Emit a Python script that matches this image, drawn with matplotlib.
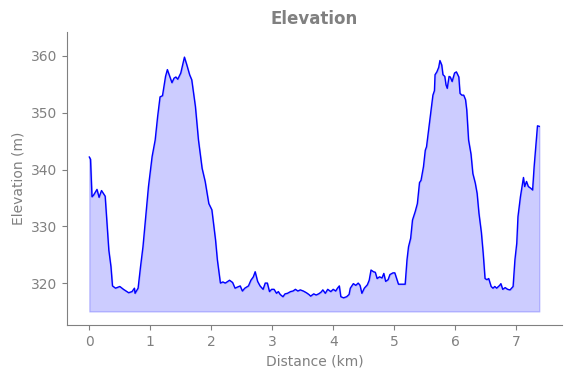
import matplotlib
matplotlib.use('Agg')
import matplotlib.pyplot as plt

# 距离 (km) 与海拔 (m)
distance_km = [
    0.0, 0.02, 0.044, 0.07, 0.126, 0.16, 0.2, 0.26, 0.32, 0.355, 0.38, 0.43, 0.5, 0.56,
    0.645, 0.70, 0.74, 0.75, 0.8, 0.84, 0.88, 0.93, 0.97, 1.03, 1.08, 1.12, 1.16, 1.2,
    1.25, 1.28, 1.33, 1.355, 1.39, 1.42, 1.45, 1.50, 1.56, 1.6, 1.645, 1.68, 1.74, 1.79,
    1.85, 1.90, 1.96, 2.01, 2.07, 2.1, 2.15, 2.19, 2.23, 2.30, 2.35, 2.39, 2.43, 2.475,
    2.51, 2.55, 2.61, 2.65, 2.69, 2.72, 2.76, 2.80, 2.85, 2.885, 2.92, 2.955, 2.99, 3.03,
    3.07, 3.10, 3.13, 3.175, 3.21, 3.25, 3.30, 3.34, 3.38, 3.42, 3.46, 3.51, 3.56, 3.60,
    3.63, 3.68, 3.72, 3.76, 3.80, 3.83, 3.87, 3.91, 3.96, 4.0, 4.04, 4.07, 4.1, 4.125,
    4.17, 4.22, 4.26, 4.28, 4.33, 4.37, 4.41, 4.44, 4.47, 4.51, 4.56, 4.59, 4.62, 4.66,
    4.69, 4.72, 4.76, 4.80, 4.83, 4.86, 4.90, 4.93, 4.98, 5.01, 5.04, 5.07, 5.12, 5.18,
    5.21, 5.235, 5.27, 5.30, 5.345, 5.38, 5.415, 5.44, 5.48, 5.51, 5.53, 5.57, 5.61, 5.635,
    5.66, 5.67, 5.70, 5.73, 5.75, 5.78, 5.80, 5.83, 5.85, 5.87, 5.90, 5.92, 5.95, 5.99,
    6.02, 6.06, 6.08, 6.11, 6.14, 6.17, 6.19, 6.22, 6.26, 6.29, 6.33, 6.36, 6.39, 6.43,
    6.46, 6.49, 6.52, 6.55, 6.59, 6.62, 6.65, 6.68, 6.73, 6.75, 6.78, 6.82, 6.86, 6.90,
    6.95, 6.98, 7.01, 7.03, 7.07, 7.09, 7.12, 7.14, 7.17, 7.2, 7.24, 7.27, 7.295, 7.33,
    7.35, 7.38,
]
elevation_m = [
    342.2, 341.8, 335.2, 335.5, 336.5, 335.1, 336.3, 335.3, 325.8, 322.9, 319.5, 319.1, 319.4, 318.9,
    318.3, 318.5, 319.1, 318.2, 319.1, 322.9, 326.4, 332.3, 337.0, 342.3, 345.2, 349.3, 352.8, 353.0,
    356.4, 357.6, 356.1, 355.3, 356.1, 356.3, 355.9, 357.0, 359.8, 358.4, 356.7, 355.8, 351.1, 345.2,
    340.2, 337.9, 334.0, 332.9, 327.6, 324.1, 320.0, 320.2, 320.0, 320.5, 320.1, 319.1, 319.3, 319.5,
    318.6, 319.1, 319.5, 320.5, 321.1, 322.0, 320.3, 319.5, 318.9, 320.0, 320.0, 318.5, 318.9, 318.9,
    318.2, 318.5, 318.0, 317.6, 318.1, 318.2, 318.5, 318.6, 318.9, 318.6, 318.8, 318.6, 318.3, 318.0,
    317.7, 318.1, 317.9, 318.1, 318.4, 318.8, 318.2, 318.9, 318.5, 318.9, 318.6, 319.1, 319.5, 317.6,
    317.4, 317.6, 318.0, 319.1, 319.9, 319.6, 320.0, 319.6, 318.2, 319.1, 319.7, 320.5, 322.3, 322.0,
    321.9, 320.8, 321.1, 320.9, 321.7, 320.3, 320.6, 321.5, 321.8, 321.8, 320.8, 319.8, 319.8, 319.8,
    324.1, 326.4, 327.9, 331.1, 332.6, 334.0, 337.7, 338.1, 340.5, 343.4, 344.0, 347.5, 351.1, 353.1,
    353.9, 356.7, 357.2, 358.0, 359.2, 358.4, 356.7, 356.4, 354.9, 354.3, 356.4, 356.3, 355.5, 357.0,
    357.2, 356.3, 353.4, 353.1, 353.1, 352.3, 350.5, 345.2, 342.7, 339.3, 337.6, 335.8, 332.3, 328.9,
    325.2, 320.8, 320.6, 320.8, 319.4, 319.1, 319.4, 319.1, 319.6, 319.9, 318.9, 319.2, 318.9, 318.8,
    319.4, 324.1, 327.0, 331.7, 335.2, 336.6, 338.6, 337.0, 337.9, 337.0, 336.7, 336.4, 340.5, 345.2,
    347.7, 347.6,
]
baseline_m = 315

fig = plt.figure(figsize=(5.71, 3.78), dpi=100)
ax = fig.add_axes([0.117, 0.140, 0.867, 0.775])

ax.fill_between(distance_km, elevation_m, baseline_m, color='blue', alpha=0.2)
ax.plot(distance_km, elevation_m, color='blue', linewidth=1)

ax.set_xlim(-0.369, 7.75)
ax.set_ylim(312.6, 364.2)

# 灰色样式
grey = '#808080'
ax.set_title('Elevation', fontsize=12, fontweight='bold', color=grey)
ax.set_xlabel('Distance (km)', color=grey)
ax.set_ylabel('Elevation (m)', color=grey)
ax.tick_params(colors=grey, labelcolor=grey)
for side in ['left', 'bottom']:
    ax.spines[side].set_color(grey)
for side in ['top', 'right']:
    ax.spines[side].set_visible(False)

plt.savefig('out.png', dpi=100)
